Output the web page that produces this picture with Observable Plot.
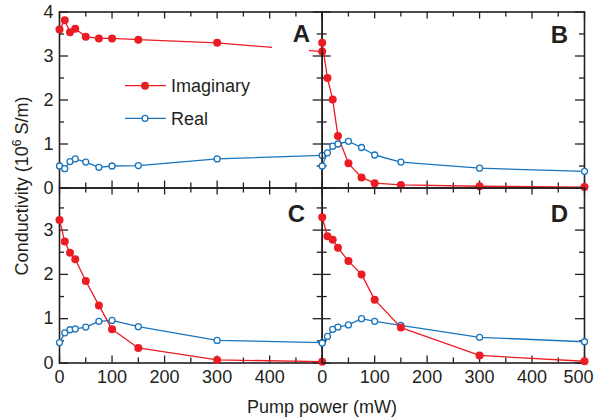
<!DOCTYPE html>
<html><head><meta charset="utf-8">
<script src="https://cdn.jsdelivr.net/npm/d3@7"></script>
<script src="https://cdn.jsdelivr.net/npm/@observablehq/plot@0.6"></script>
<style>
body{margin:0;background:#fff;}
#chart{position:relative;width:594px;height:420px;overflow:hidden;background:#fff;}
#chart svg{position:absolute;left:0;top:0;}
</style></head><body><div id="chart"></div>
<script>
// ---- data ----
const power = [0, 10, 20, 30, 50, 75, 100, 150, 300, 500];
const imagA = [3.60, 3.81, 3.54, 3.62, 3.44, 3.40, 3.40, 3.37, 3.30, 3.10];
const realA = [0.50, 0.44, 0.60, 0.66, 0.59, 0.47, 0.50, 0.51, 0.66, 0.74];
const imagB = [3.30, 2.50, 2.01, 1.18, 0.56, 0.24, 0.11, 0.07, 0.04, 0.02];
const realB = [0.50, 0.80, 0.95, 1.00, 1.06, 0.92, 0.75, 0.59, 0.45, 0.38];
const imagC = [3.23, 2.74, 2.49, 2.34, 1.85, 1.30, 0.76, 0.34, 0.07, 0.03];
const realC = [0.46, 0.68, 0.75, 0.77, 0.81, 0.94, 0.96, 0.82, 0.51, 0.46];
const imagD = [3.29, 2.86, 2.78, 2.60, 2.30, 2.00, 1.43, 0.80, 0.17, 0.04];
const realD = [0.45, 0.60, 0.76, 0.81, 0.86, 1.00, 0.94, 0.85, 0.58, 0.48];
const yTicksTop = [0, 1, 2, 3, 4];
const yTicksBottom = [0, 1, 2, 3];
const xTicksLeft = [0, 100, 200, 300, 400];
const xTicksRight = [0, 100, 200, 300, 400];
const xTickLast = [500];
const panelLabels = ["A", "B", "C", "D"];
const seriesNames = ["Imaginary", "Real"];
const xTitle = "Pump power (mW)";

// ---- style ----
const W = 594, H = 420;
const RED = "#ec1c24", BLUE = "#1a75bc", INK = "#231f20";
const FONT = "'Liberation Sans', Arial, Helvetica, sans-serif";
const G = {x0: 59, xm: 321.7, x1: 584, y0: 11.5, ym: 187.5, y1: 362.5};

function panel({imag, real, col, row, ymax, yLabels, xLabels, xLast}) {
  const ml = col === 0 ? G.x0 : G.xm, mr = col === 0 ? W - G.xm : W - G.x1;
  const mt = row === 0 ? G.y0 : G.ym, mb = row === 0 ? H - G.ym : H - G.y1;
  const pw = W - ml - mr, ph = H - mt - mb;
  const im = power.map((p, i) => ({p, v: imag[i]}));
  const re = power.map((p, i) => ({p, v: real[i]}));
  const yMaj = d3.range(0, ymax + 1e-9, 1), yMin = d3.range(0.5, ymax, 1);
  const xMaj = d3.range(0, 501, 100), xMin = d3.range(50, 500, 100);
  const tk = {stroke: INK, strokeWidth: 1.3};
  const marks = [
    Plot.tickY(yMaj, {y: d => d, insetRight: pw - 9, ...tk}),
    Plot.tickY(yMaj, {y: d => d, insetLeft: pw - 9, ...tk}),
    Plot.tickY(yMin, {y: d => d, insetRight: pw - 5, ...tk}),
    Plot.tickY(yMin, {y: d => d, insetLeft: pw - 5, ...tk}),
    Plot.tickX(xMaj, {x: d => d, insetTop: ph - 7, ...tk}),
    Plot.tickX(xMaj, {x: d => d, insetBottom: ph - 7, ...tk}),
    Plot.tickX(xMin, {x: d => d, insetTop: ph - 5, ...tk}),
    Plot.tickX(xMin, {x: d => d, insetBottom: ph - 5, ...tk}),
    Plot.frame({stroke: INK, strokeWidth: 1.6}),
    Plot.line(re, {x: "p", y: "v", stroke: BLUE, strokeWidth: 1.3}),
    Plot.line(im, {x: "p", y: "v", stroke: RED, strokeWidth: 1.3}),
    Plot.dot(re, {x: "p", y: "v", r: 3, fill: "white", stroke: BLUE, strokeWidth: 1.3}),
    Plot.dot(im, {x: "p", y: "v", r: 4, fill: RED})
  ];
  if (yLabels) marks.push(Plot.text(yLabels, {y: d => d, text: d => String(d), frameAnchor: "left", dx: -6, textAnchor: "end", fontSize: 18, fill: INK}));
  if (xLabels) marks.push(Plot.text(xLabels, {x: d => d, text: d => String(d), frameAnchor: "bottom", dy: 20, fontSize: 18, fill: INK}));
  if (xLast) marks.push(Plot.text(xLast, {x: d => d, text: d => String(d), frameAnchor: "bottom", dy: 20, dx: -6, fontSize: 18, fill: INK}));
  return Plot.plot({
    width: W, height: H,
    marginLeft: ml, marginRight: mr, marginTop: mt, marginBottom: mb,
    x: {domain: [0, 500], axis: null},
    y: {domain: [0, ymax], axis: null},
    style: {background: "transparent", overflow: "visible", fontFamily: FONT},
    marks
  });
}

const chart = document.getElementById("chart");
chart.append(panel({imag: imagA, real: realA, col: 0, row: 0, ymax: 4, yLabels: yTicksTop}));
chart.append(panel({imag: imagB, real: realB, col: 1, row: 0, ymax: 4}));
chart.append(panel({imag: imagC, real: realC, col: 0, row: 1, ymax: 3.95, yLabels: yTicksBottom, xLabels: xTicksLeft}));
chart.append(panel({imag: imagD, real: realD, col: 1, row: 1, ymax: 3.95, xLabels: xTicksRight, xLast: xTickLast}));

// ---- overlay: panel letters, legend, axis titles ----
const svg = d3.create("svg").attr("width", W).attr("height", H)
  .style("font-family", FONT).style("overflow", "visible");
svg.append("rect").attr("x", 272).attr("y", 20).attr("width", 37).attr("height", 33).attr("fill", "white");
const letterPos = [[310, 42], [568, 43], [305, 222], [568, 222]];
panelLabels.forEach((t, i) => svg.append("text").attr("x", letterPos[i][0]).attr("y", letterPos[i][1])
  .attr("text-anchor", "end").attr("font-size", 24).attr("font-weight", "bold").attr("fill", INK).text(t));
const leg = [[85.7, RED, true], [118.3, BLUE, false]];
seriesNames.forEach((name, i) => {
  const [y, c, filled] = leg[i];
  svg.append("line").attr("x1", 125).attr("x2", 166).attr("y1", y).attr("y2", y).attr("stroke", c).attr("stroke-width", 1.3);
  svg.append("circle").attr("cx", 145).attr("cy", y).attr("r", filled ? 4 : 3)
    .attr("fill", filled ? c : "white").attr("stroke", filled ? "none" : c).attr("stroke-width", 1.3);
  svg.append("text").attr("x", 171).attr("y", y).attr("dy", "0.36em").attr("font-size", 18).attr("fill", INK).text(name);
});
svg.append("text").attr("x", 322).attr("y", 413).attr("text-anchor", "middle").attr("font-size", 18).attr("fill", INK).text(xTitle);
const yt = svg.append("text").attr("transform", "translate(28,186) rotate(-90)").attr("text-anchor", "middle")
  .attr("font-size", 18).attr("fill", INK);
yt.append("tspan").text("Conductivity (10");
yt.append("tspan").attr("font-size", 12).attr("dy", -7).text("6");
yt.append("tspan").attr("dy", 7).text(" S/m)");
chart.append(svg.node());
</script></body></html>
